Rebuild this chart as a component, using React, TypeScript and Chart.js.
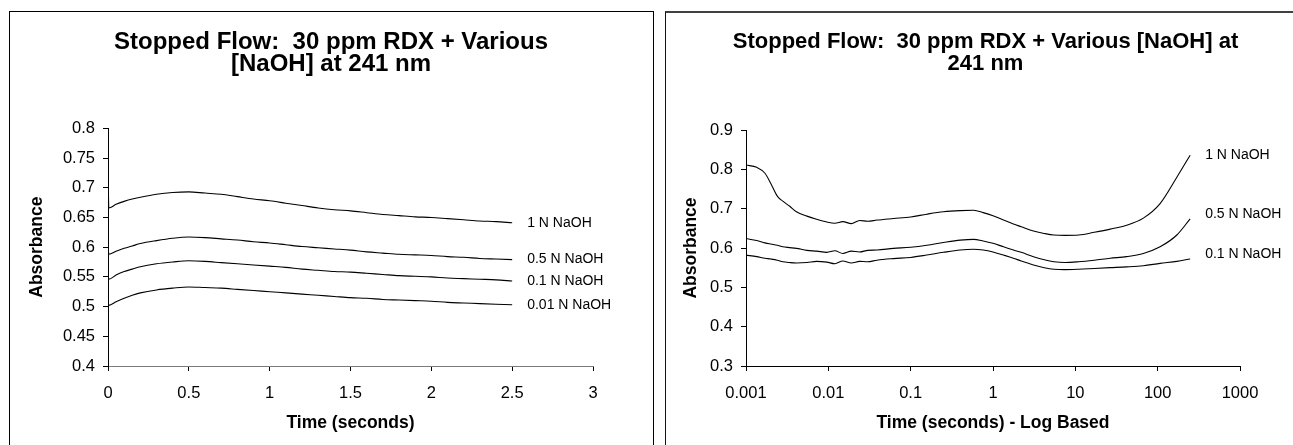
import React, { useEffect, useRef } from "react";
import { Chart, registerables } from "chart.js";

Chart.register(...registerables);

const FONT = '"Liberation Sans", Arial, Helvetica, sans-serif';

// ---------- text ----------
const LEFT_TITLE = ["Stopped Flow:  30 ppm RDX + Various", "[NaOH] at 241 nm"];
const RIGHT_TITLE = ["Stopped Flow:  30 ppm RDX + Various [NaOH] at", "241 nm"];
const Y_TITLE = "Absorbance";
const LEFT_X_TITLE = "Time (seconds)";
const RIGHT_X_TITLE = "Time (seconds) - Log Based";

// ---------- left chart (linear time) ----------
const LEFT_NAMES = ["1 N NaOH", "0.5 N NaOH", "0.1 N NaOH", "0.01 N NaOH"];
const LEFT_TIME = [
  0, 0.005, 0.05, 0.1, 0.15, 0.2, 0.3, 0.4, 0.5, 0.6, 0.7, 0.8, 0.9, 1.0, 1.1, 1.2, 1.3, 1.4, 1.5,
  1.6, 1.7, 1.8, 1.9, 2.0, 2.1, 2.2, 2.3, 2.4, 2.5,
];
const LEFT_1N = [
  0.745, 0.666, 0.672, 0.677, 0.681, 0.684, 0.689, 0.692, 0.693, 0.691, 0.689, 0.685, 0.681, 0.678,
  0.674, 0.67, 0.666, 0.663, 0.661, 0.658, 0.655, 0.653, 0.651, 0.65, 0.648, 0.646, 0.644, 0.643, 0.641,
];
const LEFT_05N = [
  0.606, 0.588, 0.593, 0.598, 0.602, 0.606, 0.611, 0.615, 0.617, 0.616, 0.614, 0.612, 0.609, 0.607,
  0.604, 0.601, 0.599, 0.597, 0.595, 0.592, 0.59, 0.588, 0.587, 0.586, 0.584, 0.583, 0.581, 0.58, 0.579,
];
const LEFT_01N = [
  0.556, 0.546, 0.553, 0.559, 0.563, 0.567, 0.572, 0.575, 0.577, 0.576, 0.574, 0.572, 0.57, 0.568,
  0.566, 0.563, 0.561, 0.559, 0.558, 0.556, 0.554, 0.552, 0.551, 0.55, 0.548, 0.547, 0.546, 0.545, 0.543,
];
const LEFT_001N = [
  0.51, 0.502, 0.508, 0.514, 0.519, 0.523, 0.528, 0.531, 0.533, 0.532, 0.531, 0.529, 0.527, 0.525,
  0.523, 0.521, 0.519, 0.517, 0.515, 0.514, 0.512, 0.511, 0.51, 0.509, 0.507, 0.506, 0.505, 0.504, 0.503,
];
const LEFT_X_TICKS = [0, 0.5, 1, 1.5, 2, 2.5, 3];
const LEFT_Y_TICKS = [0.4, 0.45, 0.5, 0.55, 0.6, 0.65, 0.7, 0.75, 0.8];

// ---------- right chart (log time) ----------
const RIGHT_NAMES = ["1 N NaOH", "0.5 N NaOH", "0.1 N NaOH"];
const RIGHT_TIME = [
  0.001, 0.00135, 0.0017, 0.002, 0.0024, 0.0028, 0.0034, 0.0041, 0.0055, 0.0072, 0.0096, 0.012, 0.015,
  0.019, 0.024, 0.03, 0.039, 0.062, 0.1, 0.157, 0.25, 0.4, 0.58, 0.76, 1.0, 1.34, 1.77, 2.2, 3.1, 4.2,
  5.5, 7.5, 11, 17, 26.5, 42, 67, 107, 171, 248,
];
const RIGHT_1N = [
  0.811, 0.805, 0.79, 0.764, 0.732, 0.719, 0.706, 0.692, 0.681, 0.673, 0.666, 0.663, 0.667, 0.662,
  0.67, 0.668, 0.671, 0.675, 0.679, 0.686, 0.692, 0.695, 0.696, 0.69, 0.682, 0.671, 0.661, 0.654,
  0.643, 0.637, 0.633, 0.632, 0.633, 0.64, 0.648, 0.658, 0.676, 0.713, 0.78, 0.836,
];
const RIGHT_05N = [
  0.624, 0.619, 0.613, 0.61, 0.607, 0.603, 0.601, 0.599, 0.594, 0.592, 0.589, 0.593, 0.586, 0.592,
  0.59, 0.594, 0.595, 0.599, 0.602, 0.607, 0.614, 0.62, 0.622, 0.618, 0.612, 0.603, 0.595, 0.589,
  0.578, 0.57, 0.565, 0.563, 0.565, 0.569, 0.574, 0.578, 0.586, 0.603, 0.633, 0.674,
];
const RIGHT_01N = [
  0.582, 0.578, 0.574, 0.572, 0.569, 0.565, 0.563, 0.562, 0.563, 0.566, 0.564, 0.56, 0.567, 0.562,
  0.566, 0.565, 0.569, 0.573, 0.576, 0.582, 0.589, 0.595, 0.597, 0.595, 0.59, 0.582, 0.574, 0.567,
  0.557, 0.55, 0.546, 0.545, 0.546, 0.548, 0.55, 0.552, 0.555, 0.561, 0.566, 0.572,
];
const RIGHT_X_TICKS = [0.001, 0.01, 0.1, 1, 10, 100, 1000];
const RIGHT_Y_TICKS = [0.3, 0.4, 0.5, 0.6, 0.7, 0.8, 0.9];

// ---------- helpers ----------
function seriesLabelPlugin(dx: number, dy: number[]) {
  return {
    id: "seriesLabels",
    afterDatasetsDraw(chart: any) {
      const ctx = chart.ctx;
      ctx.save();
      ctx.font = `14px ${FONT}`;
      ctx.fillStyle = "#000";
      ctx.textAlign = "left";
      ctx.textBaseline = "middle";
      chart.data.datasets.forEach((ds: any, i: number) => {
        const meta = chart.getDatasetMeta(i);
        const pt = meta.data[meta.data.length - 1];
        if (pt) ctx.fillText(ds.label, pt.x + dx, pt.y + (dy[i] || 0));
      });
      ctx.restore();
    },
  };
}

function makeDatasets(names: string[], time: number[], series: number[][]) {
  return series.map((s, i) => ({
    label: names[i],
    data: time.map((t, j) => ({ x: t, y: s[j] })),
    borderColor: "#000",
    borderWidth: 1.1,
    pointRadius: 0,
    fill: false,
    cubicInterpolationMode: "monotone",
  }));
}

type AxisSpec = {
  yWidth: number;
  xHeight: number;
  padRight: number;
  yTitlePad: number;
  titleSize: number;
  titlePadTop: number;
  titlePadBottom: number;
  xBorderColor: string;
};

function makeConfig(
  title: string[],
  xTitle: string,
  xType: "linear" | "logarithmic",
  xMin: number,
  xMax: number,
  xTicks: number[],
  yMin: number,
  yMax: number,
  yTicks: number[],
  datasets: any[],
  spec: AxisSpec,
  labelDy: number[]
) {
  return {
    type: "line",
    data: { datasets },
    options: {
      animation: false,
      responsive: false,
      events: [],
      layout: { padding: 0 },
      plugins: {
        legend: { display: false },
        tooltip: { enabled: false },
        title: {
          display: true,
          text: title,
          color: "#000",
          font: { family: FONT, size: spec.titleSize, weight: "bold", lineHeight: "22px" },
          padding: { top: spec.titlePadTop, bottom: spec.titlePadBottom },
        },
      },
      scales: {
        x: {
          type: xType,
          min: xMin,
          max: xMax,
          afterBuildTicks: (s: any) => {
            s.ticks = xTicks.map((v) => ({ value: v }));
          },
          afterFit: (s: any) => {
            s.height = spec.xHeight;
          },
          grid: {
            display: true,
            drawOnChartArea: false,
            drawTicks: true,
            tickLength: 5,
            color: "#000",
          },
          border: { display: true, color: spec.xBorderColor, width: 1 },
          ticks: {
            autoSkip: false,
            maxRotation: 0,
            minRotation: 0,
            padding: 12.5,
            color: "#000",
            font: { family: FONT, size: 16.5 },
            callback: (v: any) => String(v),
          },
          title: {
            display: true,
            text: xTitle,
            color: "#000",
            font: { family: FONT, size: 17.5, weight: "bold", lineHeight: 1.2 },
            padding: { top: 0, bottom: 11.5 },
          },
        },
        y: {
          type: "linear",
          min: yMin,
          max: yMax,
          afterBuildTicks: (s: any) => {
            s.ticks = yTicks.map((v) => ({ value: v }));
          },
          afterFit: (s: any) => {
            s.width = spec.yWidth;
          },
          grid: {
            display: true,
            drawOnChartArea: false,
            drawTicks: true,
            tickLength: 5,
            color: "#000",
          },
          border: { display: true, color: "#000", width: 1 },
          ticks: {
            autoSkip: false,
            padding: 8,
            color: "#000",
            font: { family: FONT, size: 16.5 },
            callback: (v: any) => String(v),
          },
          title: {
            display: true,
            text: Y_TITLE,
            color: "#000",
            font: { family: FONT, size: 17.5, weight: "bold", lineHeight: 1.2 },
            padding: { top: spec.yTitlePad, bottom: 0 },
          },
        },
        pad: {
          type: "linear",
          position: "right",
          display: true,
          grid: { display: false },
          border: { display: false },
          ticks: { display: false },
          afterFit: (s: any) => {
            s.width = spec.padRight;
          },
        },
      },
    },
    plugins: [seriesLabelPlugin(15, labelDy)],
  };
}

function ChartCanvas(props: { left: number; top: number; width: number; height: number; build: () => any }) {
  const ref = useRef<HTMLCanvasElement | null>(null);
  useEffect(() => {
    if (!ref.current) return;
    const chart = new Chart(ref.current, props.build());
    return () => chart.destroy();
  }, []);
  return (
    <canvas
      ref={ref}
      width={props.width}
      height={props.height}
      style={{
        position: "absolute",
        left: props.left,
        top: props.top,
        width: props.width,
        height: props.height,
      }}
    />
  );
}

export default function App() {
  const buildLeft = () =>
    makeConfig(
      LEFT_TITLE,
      LEFT_X_TITLE,
      "linear",
      0,
      3,
      LEFT_X_TICKS,
      0.4,
      0.8,
      LEFT_Y_TICKS,
      makeDatasets(LEFT_NAMES, LEFT_TIME, [LEFT_1N, LEFT_05N, LEFT_01N, LEFT_001N]),
      {
        yWidth: 98,
        xHeight: 79,
        padRight: 59,
        yTitlePad: 16.5,
        titleSize: 24,
        titlePadTop: 19.5,
        titlePadBottom: 52.8,
        xBorderColor: "#7a7a7a",
      },
      [0, 0, 0, 0]
    );

  const buildRight = () =>
    makeConfig(
      RIGHT_TITLE,
      RIGHT_X_TITLE,
      "logarithmic",
      0.001,
      1000,
      RIGHT_X_TICKS,
      0.3,
      0.9,
      RIGHT_Y_TICKS,
      makeDatasets(RIGHT_NAMES, RIGHT_TIME, [RIGHT_1N, RIGHT_05N, RIGHT_01N]),
      {
        yWidth: 80,
        xHeight: 79,
        padRight: 65,
        yTitlePad: 15,
        titleSize: 22,
        titlePadTop: 18.5,
        titlePadBottom: 55.5,
        xBorderColor: "#000",
      },
      [0, -5, -5]
    );

  return (
    <div
      style={{
        position: "fixed",
        left: 0,
        top: 0,
        width: 1293,
        height: 445,
        overflow: "hidden",
        background: "#fff",
      }}
    >
      <div
        style={{
          position: "absolute",
          left: 9,
          top: 11,
          width: 645,
          height: 480,
          boxSizing: "border-box",
          border: "1px solid #000",
        }}
      />
      <div
        style={{
          position: "absolute",
          left: 665,
          top: 11,
          width: 642,
          height: 480,
          boxSizing: "border-box",
          borderLeft: "1px solid #111",
          borderTop: "2px solid #404040",
          borderRight: "1px solid #000",
        }}
      />
      <ChartCanvas left={10} top={12} width={642} height={433} build={buildLeft} />
      <ChartCanvas left={666} top={12} width={639} height={433} build={buildRight} />
    </div>
  );
}
